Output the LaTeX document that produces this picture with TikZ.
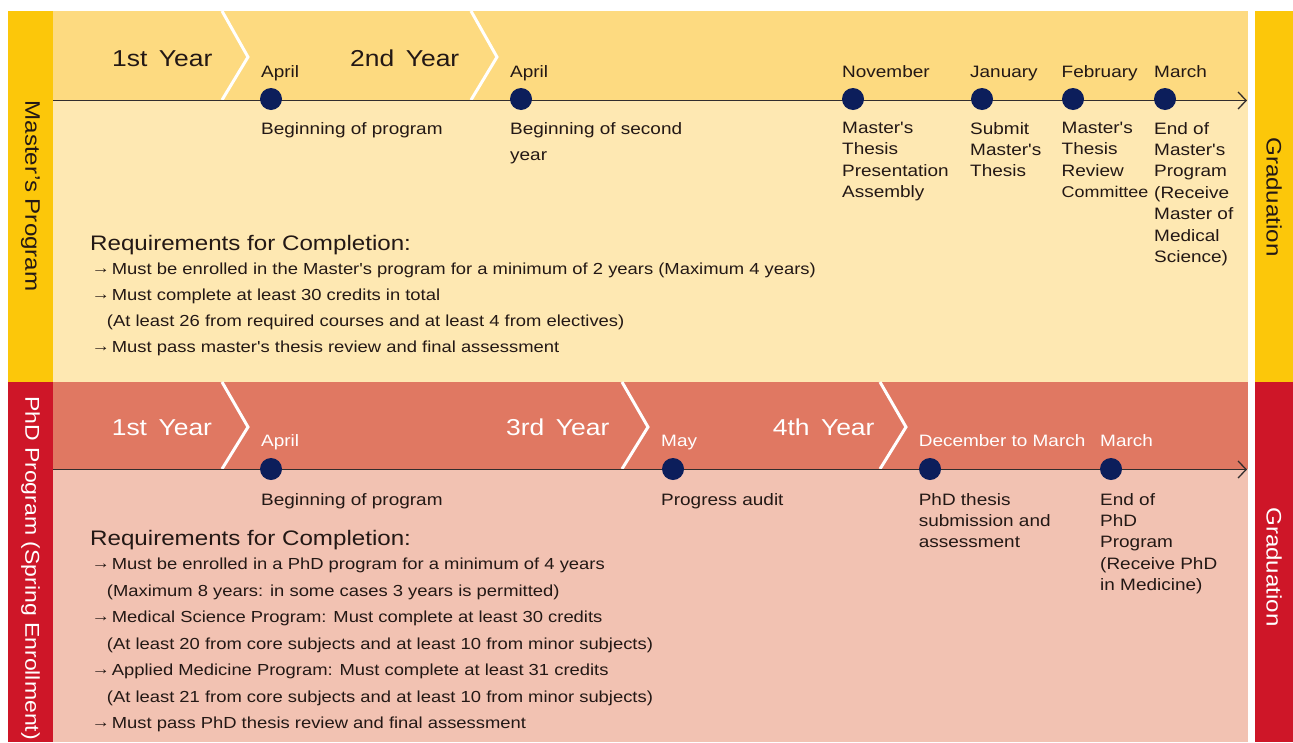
\documentclass[tikz,border=0pt]{standalone}
\usepackage{fontspec}
\setmainfont{Liberation Sans}[FakeStretch=1.15,Ligatures=TeXOff]
\usetikzlibrary{arrows.meta}
\definecolor{ink}{RGB}{35,24,21}
\definecolor{mTop}{RGB}{253,218,128}
\definecolor{mLow}{RGB}{254,232,178}
\definecolor{mSide}{RGB}{252,199,10}
\definecolor{pTop}{RGB}{224,120,98}
\definecolor{pLow}{RGB}{242,194,178}
\definecolor{pSide}{RGB}{206,22,40}
\definecolor{navy}{RGB}{12,30,91}
\definecolor{tline}{RGB}{50,45,45}
\newcommand\reqarrow{\raisebox{1pt}{→}}
\begin{document}
\begin{tikzpicture}[x=1pt,y=-1pt,
  yearlbl/.style={anchor=base west,inner sep=0,font=\fontsize{23}{26}\selectfont},
  month/.style={anchor=base west,inner sep=0,text=ink,font=\fontsize{16.5}{20}\selectfont},
  desc/.style={anchor=north west,inner sep=0,align=left,text=ink,font=\fontsize{16.5}{21.4}\selectfont},
  reqhead/.style={anchor=base west,inner sep=0,text=ink,font=\fontsize{21}{24}\selectfont},
  reqline/.style={anchor=base west,inner sep=0,text=ink,font=\fontsize{16}{20}\selectfont},
  sidetxt/.style={rotate=-90,inner sep=0,font=\fontsize{21}{24}\selectfont},
  dot/.style={circle,fill=navy,inner sep=0,minimum size=22pt},
  chev/.style={draw=white,line width=3pt,line join=miter},
  axis/.style={draw=tline,line width=1.5pt,-{Straight Barb[length=8pt,width=17pt,line width=1.3pt]}}
]
\useasboundingbox (0,0) rectangle (1293,742);
\fill[white] (0,0) rectangle (1293,742);
% ---------- Master's backgrounds ----------
\fill[mSide] (8,11) rectangle (53,382);
\fill[mTop] (53,11) rectangle (1248,100);
\fill[mLow] (53,100) rectangle (1248,382);
\fill[mSide] (1255,11) rectangle (1293,382);
% ---------- PhD backgrounds ----------
\fill[pSide] (8,382) rectangle (53,742);
\fill[pTop] (53,382) rectangle (1248,469);
\fill[pLow] (53,469) rectangle (1248,742);
\fill[pSide] (1255,382) rectangle (1293,742);
% ---------- chevrons ----------
\draw[chev] (222,11) -- (248,57) -- (222,100);
\draw[chev] (471,11) -- (497,57) -- (471,100);
\draw[chev] (222,382) -- (248,427) -- (222,469);
\draw[chev] (622,382) -- (648,427) -- (622,469);
\draw[chev] (880,382) -- (906,427) -- (880,469);
% ---------- side labels ----------
\node[sidetxt,text=ink] (mside) at (30.5,196) {Master’s Program};
\node[sidetxt,text=ink] (mgrad) at (1274,197) {Graduation};
\node[sidetxt,text=white,font=\fontsize{20}{24}\selectfont] (pside) at (30.5,568) {PhD Program (Spring Enrollment)};
\node[sidetxt,text=white] (pgrad) at (1274,567) {Graduation};
% ---------- Master timeline ----------
\coordinate (ms) at (53,100.5);
\coordinate (me) at (1247,100.5);
\draw[axis] (ms) -- (me);
\node[yearlbl,text=ink] (my1) at (112,66.5) {1st\hspace{0.5em}Year};
\node[yearlbl,text=ink] (my2) at (350,66.5) {2nd\hspace{0.5em}Year};
\node[dot] (md1) at (271,99) {};
\node[dot] (md2) at (521,99) {};
\node[dot] (md3) at (853,99) {};
\node[dot] (md4) at (982,99) {};
\node[dot] (md5) at (1073,99) {};
\node[dot] (md6) at (1165,99) {};
\node[month] (mm1) at (261,77) {April};
\node[month] (mm2) at (510,77) {April};
\node[month] (mm3) at (842,77) {November};
\node[month] (mm4) at (970,77) {January};
\node[month] (mm5) at (1061.5,77) {February};
\node[month] (mm6) at (1154,77) {March};
\node[desc] (mx1) at (261,122) {Beginning of program};
\node[desc] (mx2) at (510,122) {Beginning of second\\[5.2pt]year};
\node[desc] (mx3) at (842,122) {Master's\\Thesis\\Presentation\\Assembly};
\node[desc] (mx4) at (970,122) {Submit\\Master's\\Thesis};
\node[desc] (mx5) at (1061.5,122) {Master's\\Thesis\\Review\\{\fontsize{15.6}{21.4}\selectfont Committee}};
\node[desc] (mx6) at (1154,122) {End of\\Master's\\Program\\(Receive\\Master of\\Medical\\Science)};
\node[reqhead] (mrh) at (90,250) {Requirements for Completion:};
\node[reqline] (mr1a) at (91.5,274) {\reqarrow};
\node[reqline] (mr1) at (111.7,274) {Must be enrolled in the Master's program for a minimum of 2 years (Maximum 4 years)};
\node[reqline] (mr2a) at (91.5,300) {\reqarrow};
\node[reqline] (mr2) at (111.7,300) {Must complete at least 30 credits in total};
\node[reqline] (mr3) at (106.7,326.7) {(At least 26 from required courses and at least 4 from electives)};
\node[reqline] (mr4a) at (91.5,352.7) {\reqarrow};
\node[reqline] (mr4) at (111.7,352.7) {Must pass master's thesis review and final assessment};
% ---------- PhD timeline ----------
\coordinate (ps) at (53,469.5);
\coordinate (pe) at (1247,469.5);
\draw[axis] (ps) -- (pe);
\node[yearlbl,text=white] (py1) at (111.6,435) {1st\hspace{0.5em}Year};
\node[yearlbl,text=white] (py3) at (506,435) {3rd\hspace{0.5em}Year};
\node[yearlbl,text=white] (py4) at (772.6,435) {4th\hspace{0.5em}Year};
\node[dot] (pd1) at (271,469) {};
\node[dot] (pd2) at (673,469) {};
\node[dot] (pd3) at (930,469) {};
\node[dot] (pd4) at (1111,469) {};
\node[month,text=white] (pm1) at (261,446.7) {April};
\node[month,text=white] (pm2) at (661,446.7) {May};
\node[month,text=white] (pm3) at (918.6,446.7) {December to March};
\node[month,text=white] (pm4) at (1100,446.7) {March};
\node[desc] (px1) at (261,493) {Beginning of program};
\node[desc] (px2) at (661,493) {Progress audit};
\node[desc] (px3) at (918.6,493) {PhD thesis\\submission and\\assessment};
\node[desc] (px4) at (1100,493) {End of\\PhD\\Program\\(Receive PhD\\in Medicine)};
\node[reqhead] (prh) at (90,545) {Requirements for Completion:};
\node[reqline] (pr1a) at (91.5,569.3) {\reqarrow};
\node[reqline] (pr1) at (111.7,569.3) {Must be enrolled in a PhD program for a minimum of 4 years};
\node[reqline] (pr2) at (106.7,596) {(Maximum 8 years: in some cases 3 years is permitted)};
\node[reqline] (pr3a) at (91.5,622.7) {\reqarrow};
\node[reqline] (pr3) at (111.7,622.7) {Medical Science Program: Must complete at least 30 credits};
\node[reqline] (pr4) at (106.7,649.3) {(At least 20 from core subjects and at least 10 from minor subjects)};
\node[reqline] (pr5a) at (91.5,675.5) {\reqarrow};
\node[reqline] (pr5) at (111.7,675.5) {Applied Medicine Program: Must complete at least 31 credits};
\node[reqline] (pr6) at (106.7,702) {(At least 21 from core subjects and at least 10 from minor subjects)};
\node[reqline] (pr7a) at (91.5,728.3) {\reqarrow};
\node[reqline] (pr7) at (111.7,728.3) {Must pass PhD thesis review and final assessment};
\end{tikzpicture}
\end{document}
